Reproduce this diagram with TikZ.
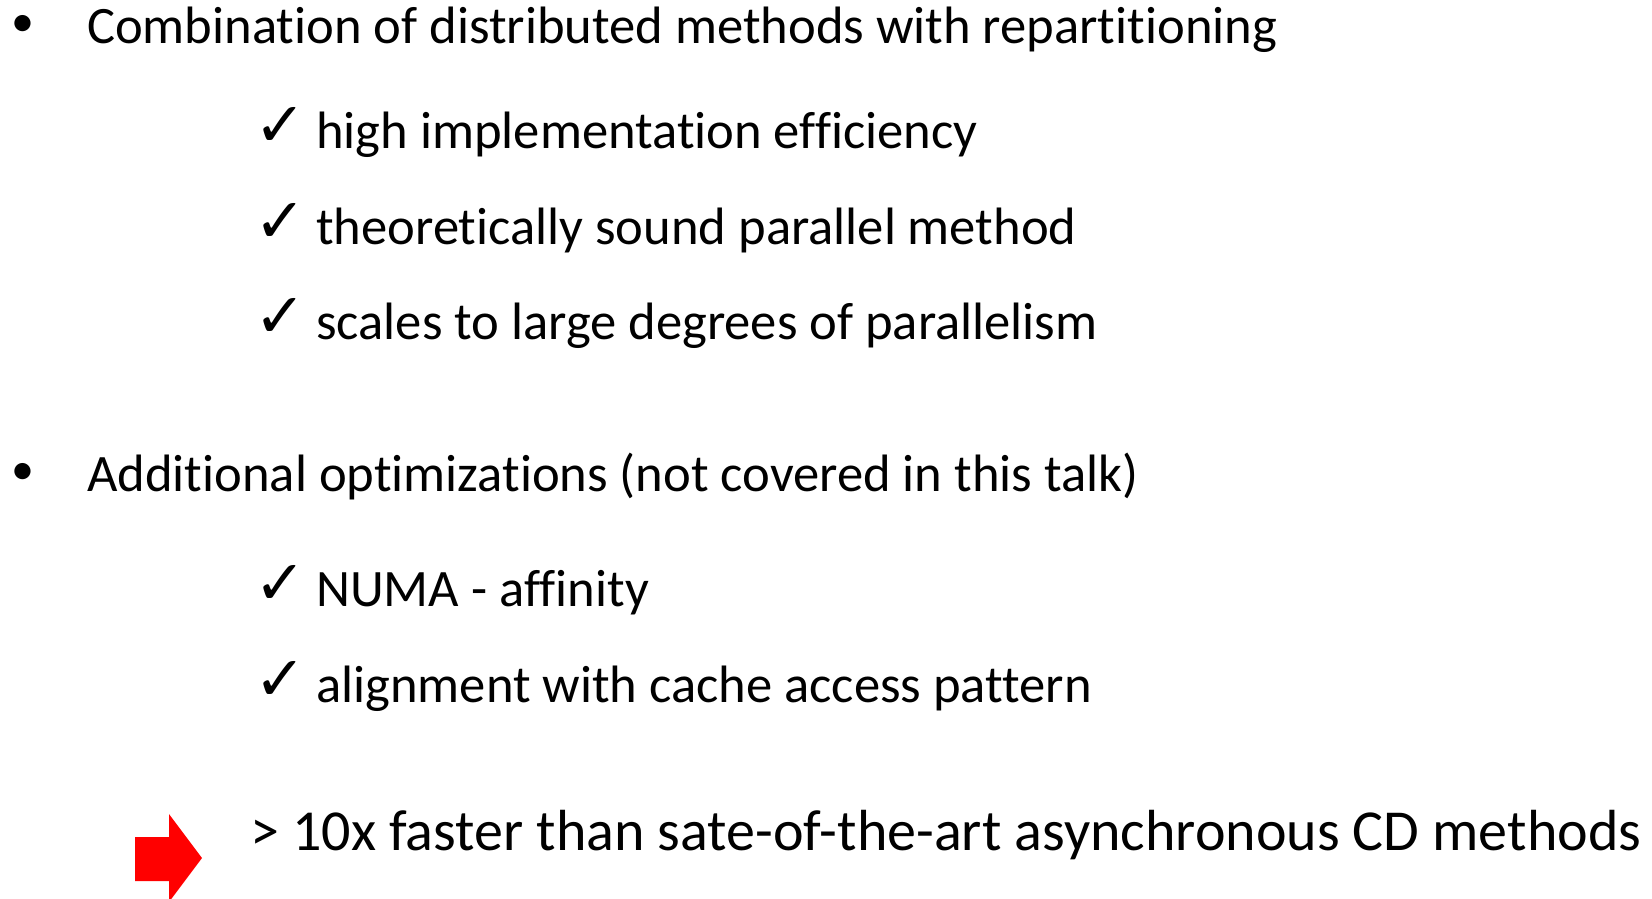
\documentclass[tikz,border=0pt]{standalone}
\usepackage{fontspec}
\setmainfont{Carlito}[Ligatures=NoCommon]
\newfontfamily\symfont{DejaVu Sans}
\usepackage{tikz}
\tikzstyle{txt} = [inner sep=0pt, anchor=base west, font={\fontsize{52.6}{60}\selectfont}]
\tikzstyle{big} = [inner sep=0pt, anchor=base west, font={\fontsize{58}{66}\selectfont}]
\tikzstyle{dot} = [inner sep=0pt, font={\fontsize{46}{56}\selectfont}]
\tikzstyle{tick} = [inner sep=0pt, anchor=base west, font={\symfont\bfseries\fontsize{62}{70}\selectfont}]

\begin{document}
\begin{tikzpicture}[x=1pt,y=-1pt]
    \useasboundingbox (0,0) rectangle (1652,898);
    \clip (0,0) rectangle (1652,898);
    \node[dot](b1) at (23,26){•};
    \node[txt](l1) at (87,43){Combination of distributed methods with repartitioning};
    \node[tick](c1) at (254,146){✓};
    \node[txt](s1) at (316,148){high implementation efficiency};
    \node[tick](c2) at (254,242){✓};
    \node[txt](s2) at (316,244){theoretically sound parallel method};
    \node[tick](c3) at (254,337){✓};
    \node[txt](s3) at (316,339){scales to large degrees of parallelism};
    \node[dot](b2) at (23,474){•};
    \node[txt](l2) at (87,491){Additional optimizations (not covered in this talk)};
    \node[tick](c4) at (254,604){✓};
    \node[txt](s4) at (316,606){NUMA - affinity};
    \node[tick](c5) at (254,700){✓};
    \node[txt](s5) at (316,702){alignment with cache access pattern};
    \fill[red] (135,837) -- (169,837) -- (169,814) -- (202,858) -- (169,902) -- (169,881) -- (135,881) -- cycle;
    \node[big](res) at (250,850){> 10x faster than sate-of-the-art asynchronous CD methods};
  \end{tikzpicture}
\end{document}
